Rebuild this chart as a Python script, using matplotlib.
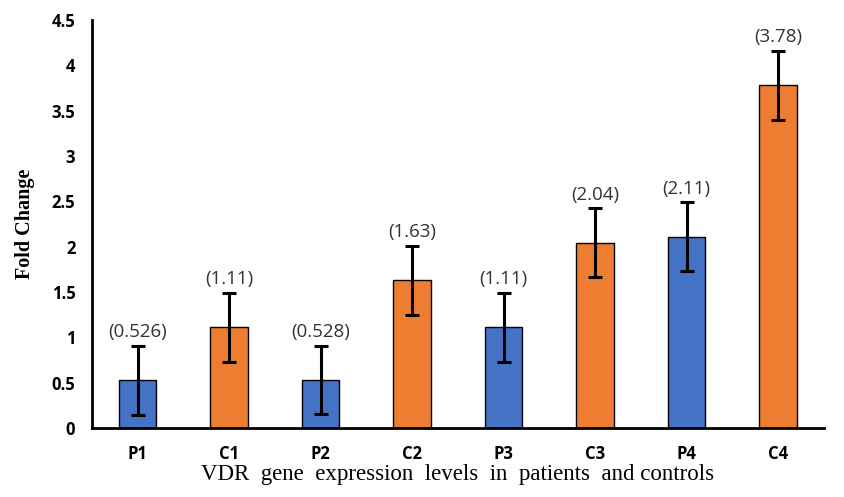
import matplotlib.pyplot as plt
import numpy as np

groups = ['P1', 'C1', 'P2', 'C2', 'P3', 'C3', 'P4', 'C4']
fold_change = [0.526, 1.11, 0.528, 1.63, 1.11, 2.04, 2.11, 3.78]
errors = [0.38, 0.38, 0.38, 0.38, 0.38, 0.38, 0.38, 0.38]
value_labels = ['(0.526)', '(1.11)', '(0.528)', '(1.63)', '(1.11)', '(2.04)', '(2.11)', '(3.78)']
colors = ['#4472C4', '#ED7D31'] * 4

fig = plt.figure(figsize=(8.44, 4.97), dpi=100)
ax = fig.add_axes([0.109, 0.139, 0.867, 0.821])

x = np.arange(len(groups))
ax.bar(x, fold_change, width=0.41, color=colors, edgecolor='black', linewidth=1,
       yerr=errors, error_kw=dict(ecolor='black', elinewidth=2.2, capsize=5, capthick=2.2))

for xi, v, e, lab in zip(x, fold_change, errors, value_labels):
    ax.text(xi, v + e + 0.05, lab, ha='center', va='bottom', fontsize=13.5,
            family='Open Sans', color='#333333')

ax.set_xlim(-0.5, 7.5)
ax.set_ylim(0, 4.5)
ax.set_yticks(np.arange(0, 4.51, 0.5))
ax.set_yticklabels(['0', '0.5', '1', '1.5', '2', '2.5', '3', '3.5', '4', '4.5'])
ax.set_xticks(x)
ax.set_xticklabels(groups)
ax.tick_params(length=0)
ax.tick_params(axis='y', pad=12)
ax.tick_params(axis='x', pad=12)
for lab in ax.get_xticklabels() + ax.get_yticklabels():
    lab.set_fontfamily('Open Sans')
    lab.set_fontweight('bold')
    lab.set_fontsize(12)

for s in ['top', 'right']:
    ax.spines[s].set_visible(False)
for s in ['left', 'bottom']:
    ax.spines[s].set_linewidth(2)

ax.set_ylabel('Fold Change', family='Liberation Serif', fontweight='bold', fontsize=14.5, labelpad=12)
ax.set_xlabel('VDR  gene  expression  levels  in  patients  and controls', family='Liberation Serif',
              fontsize=16.5, labelpad=1)

fig.savefig('out.png', dpi=100)
